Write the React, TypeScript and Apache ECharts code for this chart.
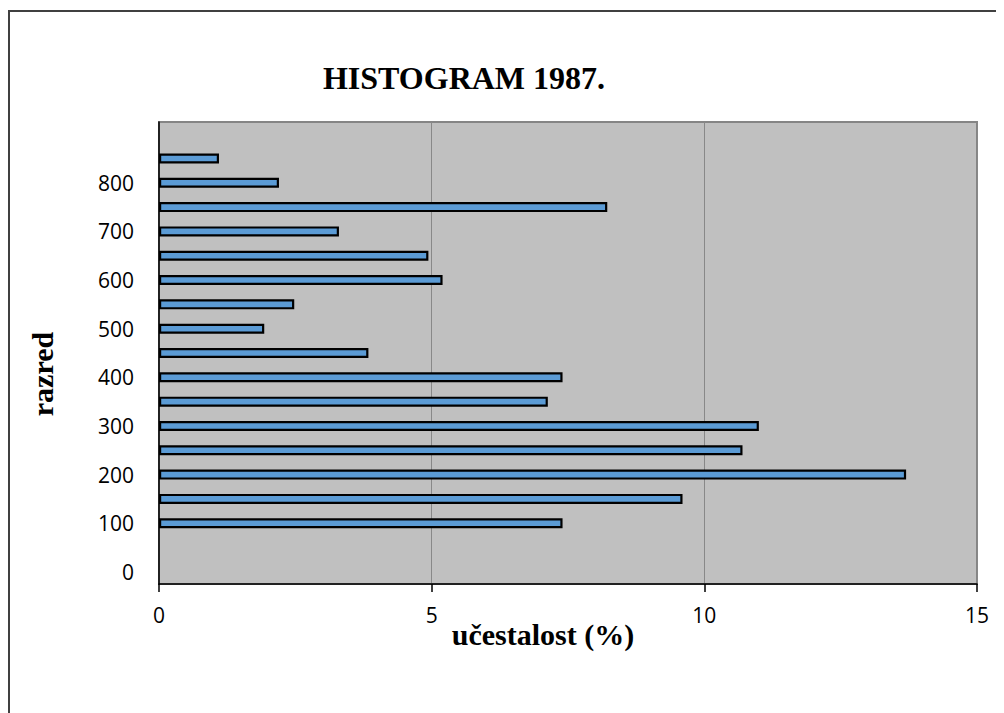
import React, { useEffect, useRef } from "react";
import * as echarts from "echarts";

// Category axis (razred): 0 .. 900 step 50
const categories: string[] = ["0","50","100","150","200","250","300","350","400","450","500","550","600","650","700","750","800","850","900"];
// Labels shown on the category axis
const shownLabels: string[] = ["0","100","200","300","400","500","600","700","800"];
// učestalost (%) per class; null = no bar
const frequency: (number | null)[] = [null, null, 7.4, 9.6, 13.7, 10.7, 11.0, 7.13, 7.4, 3.84, 1.93, 2.48, 5.2, 4.94, 3.3, 8.22, 2.2, 1.1, null];

const titleText = "HISTOGRAM 1987.";
const xName = "učestalost (%)";
const yName = "razred";

export default function App() {
  const ref = useRef<HTMLDivElement>(null);
  useEffect(() => {
    if (!ref.current) return;
    const chart = echarts.init(ref.current, undefined, { renderer: "svg" });
    chart.setOption({
      animation: false,
      grid: {
        left: 151,
        top: 114,
        width: 818,
        height: 462,
        show: true,
        backgroundColor: "#C0C0C0",
        borderColor: "#858585",
        borderWidth: 2,
      },
      xAxis: {
        type: "value",
        min: 0,
        max: 15,
        interval: 5,
        axisLine: { show: true, lineStyle: { color: "#000", width: 1.5 } },
        axisTick: { show: true, length: 8, lineStyle: { color: "#000", width: 1.5 } },
        axisLabel: { color: "#000", fontFamily: "Open Sans", fontSize: 21, margin: 20 },
        splitLine: { show: true, lineStyle: { color: "#888888", width: 1 } },
      },
      yAxis: {
        type: "category",
        data: categories,
        boundaryGap: true,
        axisLine: { show: true, lineStyle: { color: "#000", width: 1.5 } },
        axisTick: { show: false },
        axisLabel: {
          interval: 0,
          color: "#000",
          fontFamily: "Open Sans",
          fontSize: 21,
          margin: 25,
          formatter: (v: string) => (shownLabels.includes(v) ? v : ""),
        },
        splitLine: { show: false },
      },
      series: [
        {
          type: "bar",
          data: frequency.map((v) => (v === null ? "-" : v)),
          barWidth: 10,
          itemStyle: { color: "#5B9BD5", borderColor: "#000", borderWidth: 2.2 },
        },
      ],
      graphic: [
        {
          type: "rect",
          shape: { x: 1, y: 3, width: 993, height: 712 },
          style: { fill: "none", stroke: "#404040", lineWidth: 2 },
          silent: true,
        },
        {
          type: "text",
          x: 456,
          y: 70,
          style: {
            text: titleText,
            fontFamily: "Liberation Serif",
            fontWeight: "bold",
            fontSize: 32,
            fill: "#000",
            textAlign: "center",
            textVerticalAlign: "middle",
          },
        },
        {
          type: "text",
          x: 535,
          y: 626,
          style: {
            text: xName,
            fontFamily: "Liberation Serif",
            fontWeight: "bold",
            fontSize: 30,
            fill: "#000",
            textAlign: "center",
            textVerticalAlign: "middle",
          },
        },
        {
          type: "text",
          x: 34,
          y: 366,
          rotation: Math.PI / 2,
          style: {
            text: yName,
            fontFamily: "Liberation Serif",
            fontWeight: "bold",
            fontSize: 30,
            fill: "#000",
            textAlign: "center",
            textVerticalAlign: "middle",
          },
        },
      ],
    });
    return () => chart.dispose();
  }, []);
  return <div ref={ref} style={{ width: 996, height: 705 }} />;
}
